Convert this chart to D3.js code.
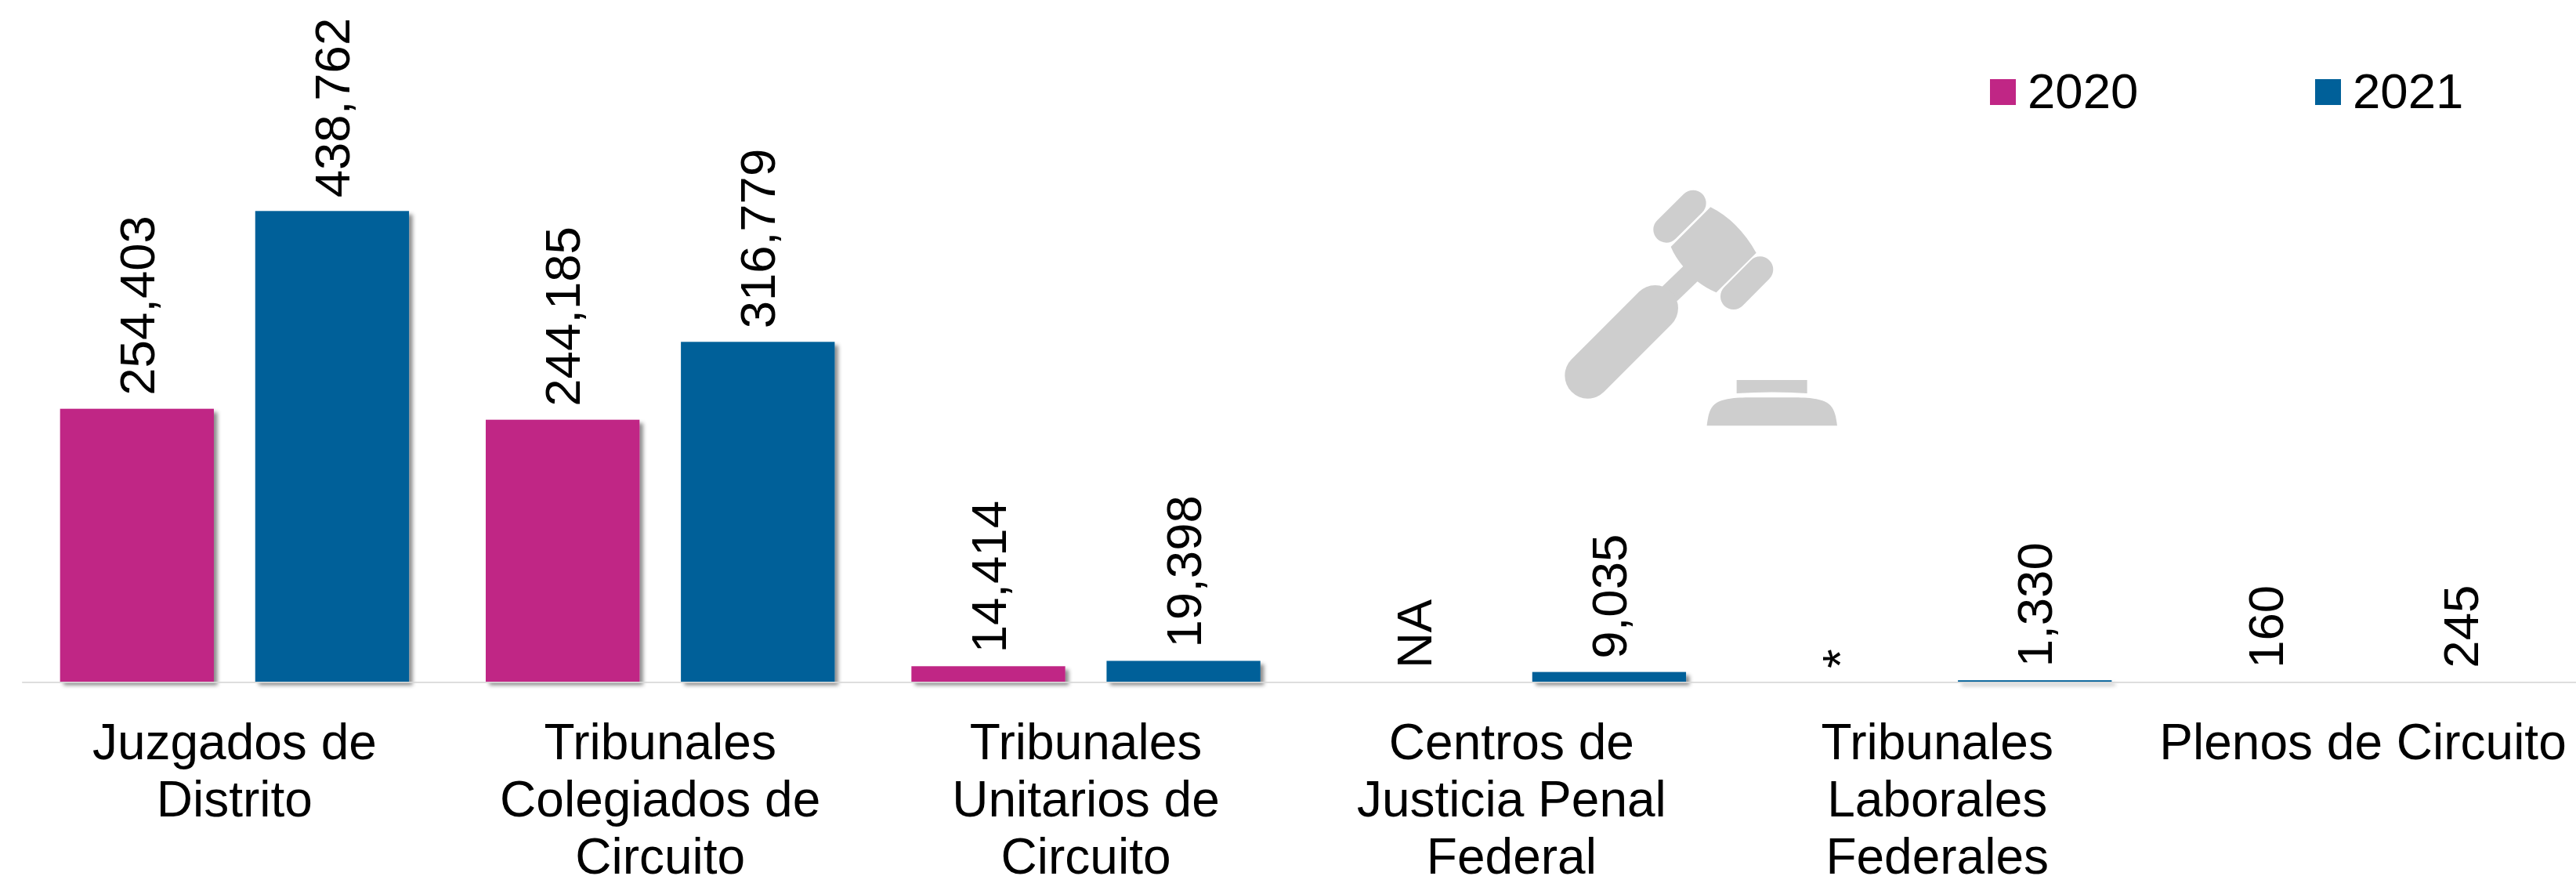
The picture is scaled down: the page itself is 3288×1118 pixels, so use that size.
<!DOCTYPE html>
<html><head><meta charset="utf-8">
<script src="https://cdn.jsdelivr.net/npm/d3@7/dist/d3.min.js"></script>
<style>html,body{margin:0;padding:0;background:#fff}svg{display:block}text{font-family:"Liberation Sans",Arial,sans-serif;fill:#000}</style>
</head><body>
<script>
const categories = ["Juzgados de Distrito","Tribunales Colegiados de Circuito","Tribunales Unitarios de Circuito","Centros de Justicia Penal Federal","Tribunales Laborales Federales","Plenos de Circuito"];
const categoryLines = [["Juzgados de","Distrito"],["Tribunales","Colegiados de","Circuito"],["Tribunales","Unitarios de","Circuito"],["Centros de","Justicia Penal","Federal"],["Tribunales","Laborales","Federales"],["Plenos de Circuito"]];
const seriesNames = ["2020","2021"];
const values2020 = [254403,244185,14414,0,0,160];
const values2021 = [438762,316779,19398,9035,1330,245];
const labels2020 = ["254,403","244,185","14,414","NA","*","160"];
const labels2021 = ["438,762","316,779","19,398","9,035","1,330","245"];
const colors = ["#c02685","#006099"];

const W=3288,H=1118,FS=63.5;
const svg=d3.select("body").append("svg").attr("width",W).attr("height",H).attr("viewBox",`0 0 ${W} ${H}`);
const defs=svg.append("defs");
const f=defs.append("filter").attr("id","sh").attr("x","-10%").attr("y","-10%").attr("width","125%").attr("height","125%");
f.append("feDropShadow").attr("dx",4.5).attr("dy",4.5).attr("stdDeviation",2.5).attr("flood-color","#000").attr("flood-opacity",0.45);

const x0=d3.scaleBand().domain(categories).range([27.7,3287.7]);
const x1=d3.scaleBand().domain(seriesNames).range([0,x0.bandwidth()]).paddingInner(0.212).paddingOuter(0.1966);
const y=d3.scaleLinear().domain([0,438762]).range([870,269.3]);

// gavel decoration
const g=svg.append("g").attr("transform","translate(1900,200) scale(0.3333)").attr("fill","#cecece");
g.append("path").attr("d","M850,193 Q955,245 1025,368 L872,520 Q835,505 800,478 L722,553 L665,497 L745,420 Q715,385 698,345 Z");
[[380,838,638,580,88],[783,178,681,279,50],[1040,432,938,535,50]].forEach(([a,b,c,d,r])=>{
  g.append("line").attr("x1",a).attr("y1",b).attr("x2",c).attr("y2",d).attr("stroke","#cecece").attr("stroke-width",2*r).attr("stroke-linecap","round");
});
g.append("path").attr("d","M950,855 H1220 V906 Q1085,897 950,906 Z");
g.append("path").attr("d","M836,1030 C845,950 860,925 985,922 L1185,922 C1310,925 1325,950 1335,1030 Z");

// bars and labels
[values2020,values2021].forEach((vals,s)=>{
  const name=seriesNames[s], labs=s?labels2021:labels2020;
  const rows=vals.map((v,i)=>({v,i})).filter(d=>d.v>0);
  const draw=(sel)=>sel.attr("x",d=>x0(categories[d.i])+x1(name)).attr("width",x1.bandwidth())
    .attr("y",d=>y(d.v)).attr("height",d=>y(0)-y(d.v)).attr("fill",colors[s]);
  // bars thinner than a pixel cast no visible shadow and round away
  svg.append("g").attr("filter","url(#sh)").selectAll("rect").data(rows.filter(d=>y(0)-y(d.v)>=1)).join("rect").call(draw);
  svg.append("g").attr("shape-rendering","crispEdges").selectAll("rect").data(rows.filter(d=>y(0)-y(d.v)<1)).join("rect").call(draw);
  svg.append("g").selectAll("text").data(vals).join("text")
    .attr("font-size",FS).attr("dy","0.35em")
    .attr("transform",(v,i)=>`translate(${x0(categories[i])+x1(name)+x1.bandwidth()/2},${y(v)-17}) rotate(-90)`)
    .text((v,i)=>labs[i]);
});

// axis
const axis=svg.append("g").attr("transform","translate(0,870.3)").call(d3.axisBottom(x0).tickSize(0).tickPadding(0));
axis.select(".domain").attr("stroke","#d9d9d9").attr("stroke-width",1.8);
axis.selectAll(".tick text").each(function(d,i){
  const t=d3.select(this).text(null).attr("y",null).attr("dy",null).attr("font-size",64).attr("font-family",null).attr("text-anchor","middle");
  categoryLines[i].forEach((l,j)=>t.append("tspan").attr("x",0).attr("y",98.7+j*73).text(l));
});

// legend
const lg=svg.append("g");
seriesNames.forEach((n,i)=>{
  const lx=d3.scaleOrdinal().domain(seriesNames).range([2540,2955])(n);
  lg.append("rect").attr("x",lx).attr("y",101).attr("width",33).attr("height",33).attr("fill",colors[i]);
  lg.append("text").attr("x",lx+48).attr("y",138).attr("font-size",63.5).text(n);
});
</script>
</body></html>
